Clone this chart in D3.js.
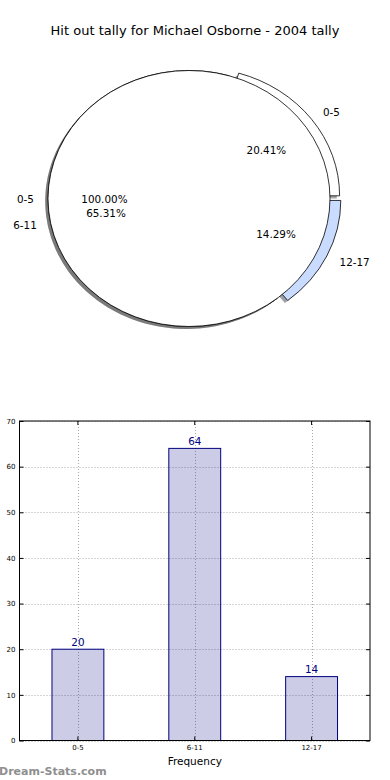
<!DOCTYPE html>
<html>
<head>
<meta charset="utf-8">
<script src="https://cdn.jsdelivr.net/npm/d3@7/dist/d3.min.js"></script>
<style>
body { margin: 0; background: #fff; }
svg { display: block; font-family: "DejaVu Sans", sans-serif; }
</style>
</head>
<body>
<svg id="chart" width="390" height="780"></svg>
<script>
// data
const categories = ['0-5', '6-11', '12-17']
const counts = [20, 64, 14]
const explodeOn = [1, 0, 1]
const pieColors = ['#ffffff', '#ffffff', '#c9dbff']
// second (whole) pie that sits on top of the first one
const overlayLabels = ['0-5']
const overlayValues = [1]
const yTicks = [0, 10, 20, 30, 40, 50, 60, 70]

const title = 'Hit out tally for Michael Osborne - 2004 tally'

const svg = d3.select('#chart')

svg.append('text')
    .attr('x', 195)
    .attr('y', 30)
    .attr('text-anchor', 'middle')
    .attr('dominant-baseline', 'central')
    .attr('font-size', 13)
    .attr('fill', '#000')
    .text(title)

// ---------- pie ----------
const cx = 189, cy = 198.5
const rx = 141, ry = 128
const R = 100
const explodeX = 0.085, explodeY = 0.035
const shadowDx = -2.8, shadowDy = 2.56

// matplotlib style: start at 3 o'clock, go counter clockwise
const pie = d3.pie()
    .sort(null)
    .startAngle(Math.PI / 2)
    .endAngle(Math.PI / 2 - 2 * Math.PI)

const arc = d3.arc().innerRadius(0).outerRadius(R)

const shadowColor = c => {
    const k = d3.rgb(c)
    return `rgba(${Math.round(k.r * 0.3)},${Math.round(k.g * 0.3)},${Math.round(k.b * 0.3)},0.5)`
}

const pieG = svg.append('g')

const drawWedge = (d, color, ox, oy) => {
    pieG.append('path')
        .attr('d', arc(d))
        .attr('transform', `translate(${cx + ox + shadowDx},${cy + oy + shadowDy}) scale(${rx / R},${ry / R})`)
        .attr('fill', shadowColor(color))
        .attr('stroke', 'none')
    pieG.append('path')
        .attr('d', arc(d))
        .attr('transform', `translate(${cx + ox},${cy + oy}) scale(${rx / R},${ry / R})`)
        .attr('fill', color)
        .attr('stroke', '#000')
        .attr('stroke-width', 0.8)
        .attr('vector-effect', 'non-scaling-stroke')
}

const labels = []

const total = d3.sum(counts)
const arcs = pie(counts)
arcs.forEach((d, i) => {
    const m = (d.startAngle + d.endAngle) / 2
    const sx = Math.sin(m), sy = -Math.cos(m)
    const ox = explodeOn[i] * explodeX * rx * sx
    const oy = explodeOn[i] * explodeY * ry * sy
    drawWedge(d, pieColors[i], ox, oy)
    labels.push({ x: cx + ox + 1.1 * rx * sx, y: cy + oy + 1.1 * ry * sy, text: categories[i], anchor: sx > 0 ? 'start' : 'end' })
    labels.push({ x: cx + ox + 0.6 * rx * sx, y: cy + oy + 0.6 * ry * sy, text: (counts[i] / total * 100).toFixed(2) + '%', anchor: 'middle' })
})

const overTotal = d3.sum(overlayValues)
pie(overlayValues).forEach((d, i) => {
    const m = (d.startAngle + d.endAngle) / 2
    const sx = Math.sin(m), sy = -Math.cos(m)
    drawWedge(d, '#ffffff', 0, 0)
    labels.push({ x: cx + 1.1 * rx * sx, y: cy + 1.1 * ry * sy, text: overlayLabels[i], anchor: sx > 0 ? 'start' : 'end' })
    labels.push({ x: cx + 0.6 * rx * sx, y: cy + 0.6 * ry * sy, text: (overlayValues[i] / overTotal * 100).toFixed(2) + '%', anchor: 'middle' })
})

svg.append('g')
    .selectAll('text')
    .data(labels)
    .join('text')
    .attr('x', d => d.x)
    .attr('y', d => d.y)
    .attr('text-anchor', d => d.anchor)
    .attr('dominant-baseline', 'central')
    .attr('font-size', 10.4)
    .attr('fill', '#000')
    .text(d => d.text)

// ---------- bar chart ----------
const margin = { left: 19.5, right: 370, top: 421, bottom: 740.5 }

const x = d3.scaleBand()
    .domain(categories)
    .range([margin.left, margin.right])
    .paddingInner(0.556)
    .paddingOuter(0.278)

const y = d3.scaleLinear()
    .domain([0, 70])
    .range([margin.bottom, margin.top])

const grid = svg.append('g')
    .attr('stroke', '#aaa')
    .attr('stroke-width', 1)
    .attr('stroke-dasharray', '1,2')
grid.selectAll('.gy')
    .data(yTicks)
    .join('line')
    .attr('x1', margin.left)
    .attr('x2', margin.right)
    .attr('y1', d => Math.round(y(d)) + 0.5)
    .attr('y2', d => Math.round(y(d)) + 0.5)
grid.selectAll('.gx')
    .data(categories)
    .join('line')
    .attr('x1', d => Math.round(x(d) + x.bandwidth() / 2) + 0.5)
    .attr('x2', d => Math.round(x(d) + x.bandwidth() / 2) + 0.5)
    .attr('y1', margin.top)
    .attr('y2', margin.bottom)

svg.append('g')
    .selectAll('rect')
    .data(counts)
    .join('rect')
    .attr('x', (d, i) => x(categories[i]))
    .attr('y', d => y(d))
    .attr('width', x.bandwidth())
    .attr('height', d => y(0) - y(d))
    .attr('fill', 'rgba(0,0,128,0.2)')
    .attr('stroke', '#000080')
    .attr('stroke-width', 1)

svg.append('g')
    .selectAll('text')
    .data(counts)
    .join('text')
    .attr('x', (d, i) => x(categories[i]) + x.bandwidth() / 2)
    .attr('y', d => y(d) - 3.5)
    .attr('text-anchor', 'middle')
    .attr('font-size', 10.4)
    .attr('fill', '#000080')
    .text(d => d)

const fixAxis = g => {
    g.select('.domain').remove()
    g.selectAll('line').attr('stroke', '#000')
    g.selectAll('text').attr('font-family', '"DejaVu Sans", sans-serif').attr('font-size', 7).attr('fill', '#000')
}

svg.append('g')
    .attr('transform', `translate(${margin.left},0)`)
    .call(d3.axisLeft(y).tickValues(yTicks).tickSizeInner(-4).tickSizeOuter(0).tickPadding(4))
    .call(fixAxis)

svg.append('g')
    .attr('transform', `translate(${margin.right},0)`)
    .call(d3.axisRight(y).tickValues(yTicks).tickSizeInner(-4).tickSizeOuter(0).tickFormat(''))
    .call(fixAxis)

svg.append('g')
    .attr('transform', `translate(0,${margin.bottom})`)
    .call(d3.axisBottom(x).tickSizeInner(-4).tickSizeOuter(0).tickPadding(4.5))
    .call(fixAxis)

svg.append('g')
    .attr('transform', `translate(0,${margin.top})`)
    .call(d3.axisTop(x).tickSizeInner(-4).tickSizeOuter(0).tickFormat(''))
    .call(fixAxis)

svg.append('rect')
    .attr('x', margin.left)
    .attr('y', margin.top)
    .attr('width', margin.right - margin.left)
    .attr('height', margin.bottom - margin.top)
    .attr('fill', 'none')
    .attr('stroke', '#000')
    .attr('stroke-width', 1)

svg.append('text')
    .attr('x', (margin.left + margin.right) / 2)
    .attr('y', 761)
    .attr('text-anchor', 'middle')
    .attr('dominant-baseline', 'central')
    .attr('font-size', 10.5)
    .attr('fill', '#000')
    .text('Frequency')

svg.append('text')
    .attr('x', -1)
    .attr('y', 774.5)
    .attr('font-size', 11)
    .attr('font-weight', 'bold')
    .attr('fill', '#8f8f8f')
    .text('Dream-Stats.com')
</script>
</body>
</html>
